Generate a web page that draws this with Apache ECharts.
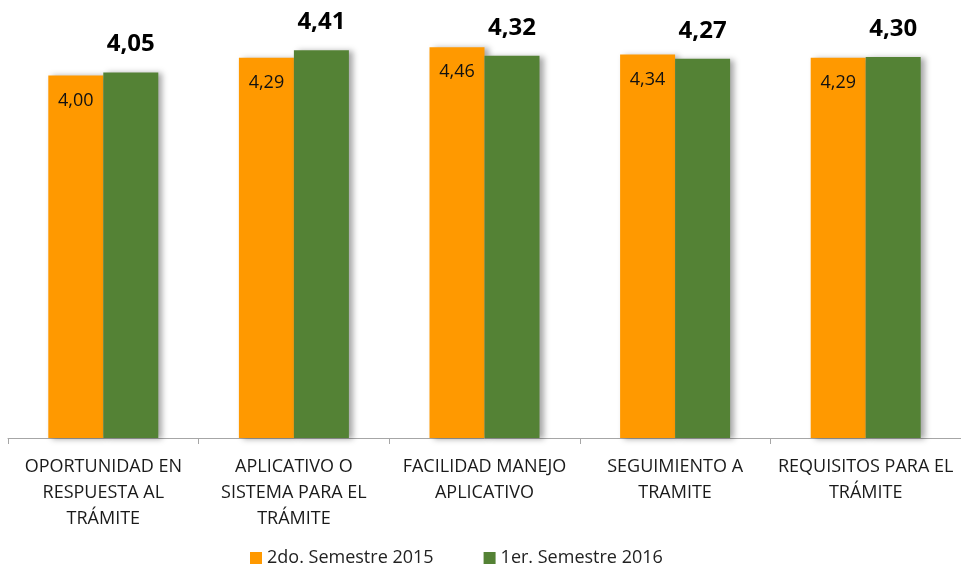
<!DOCTYPE html>
<html>
<head>
<meta charset="utf-8">
<script src="https://cdn.jsdelivr.net/npm/echarts@6/dist/echarts.min.js"></script>
<style>
  html, body { margin: 0; padding: 0; background: #fff; }
  #chart { width: 961px; height: 566px; }
</style>
</head>
<body>
<div id="chart"></div>
<script>
var categories = [
  'OPORTUNIDAD EN\nRESPUESTA AL\nTRÁMITE',
  'APLICATIVO O\nSISTEMA PARA EL\nTRÁMITE',
  'FACILIDAD MANEJO\nAPLICATIVO',
  'SEGUIMIENTO A\nTRAMITE',
  'REQUISITOS PARA EL\nTRÁMITE'
];
var seriesNames = ['2do. Semestre 2015', '1er. Semestre 2016'];
var sem2015 = [4.00, 4.29, 4.46, 4.34, 4.29];
var sem2016 = [4.05, 4.41, 4.32, 4.27, 4.30];

var fontFamily = '"Open Sans", "Noto Sans", sans-serif';
var chart = echarts.init(document.getElementById('chart'));

function fmt(p) {
  return p.value.toFixed(2).replace('.', ',');
}

var shadow = {
  shadowColor: 'rgba(0,0,0,0.35)',
  shadowBlur: 6,
  shadowOffsetX: 4,
  shadowOffsetY: 1
};

var option = {
  animation: false,
  color: ['#FF9900', '#548235'],
  grid: {
    left: 8,
    width: 958,
    top: 14,
    bottom: 128,
    containLabel: false
  },
  legend: {
    data: seriesNames,
    bottom: -6,
    left: 245,
    icon: 'rect',
    itemWidth: 12,
    itemHeight: 12,
    itemGap: 50,
    itemStyle: { shadowBlur: 0, shadowOffsetX: 0, shadowOffsetY: 0 },
    textStyle: {
      fontFamily: fontFamily,
      fontSize: 18,
      color: '#222'
    }
  },
  xAxis: {
    type: 'category',
    data: categories,
    boundaryGap: true,
    axisLine: {
      onZero: false,
      lineStyle: { color: '#a6a6a6', width: 1 }
    },
    axisTick: {
      show: true,
      length: 6,
      lineStyle: { color: '#a6a6a6' }
    },
    axisLabel: {
      interval: 0,
      margin: 16,
      fontFamily: fontFamily,
      fontSize: 18,
      lineHeight: 26,
      color: '#1a1a1a'
    }
  },
  yAxis: {
    type: 'value',
    min: -1.9,
    max: 5,
    startValue: -1.9,
    show: false,
    splitLine: { show: false }
  },
  series: [
    {
      name: seriesNames[0],
      type: 'bar',
      data: sem2015,
      barWidth: 55,
      barGap: '0%',
      itemStyle: shadow,
      label: {
        show: true,
        position: 'insideTop',
        distance: 16,
        formatter: fmt,
        fontFamily: fontFamily,
        fontSize: 18,
        color: '#111'
      }
    },
    {
      name: seriesNames[1],
      type: 'bar',
      data: sem2016,
      barWidth: 55,
      barGap: '0%',
      itemStyle: shadow,
      label: {
        show: true,
        position: 'top',
        distance: 16,
        formatter: fmt,
        fontFamily: fontFamily,
        fontSize: 24,
        fontWeight: 'bold',
        color: '#000'
      }
    }
  ]
};

chart.setOption(option);
window.addEventListener('resize', function () {
  chart.resize();
});
</script>
</body>
</html>
